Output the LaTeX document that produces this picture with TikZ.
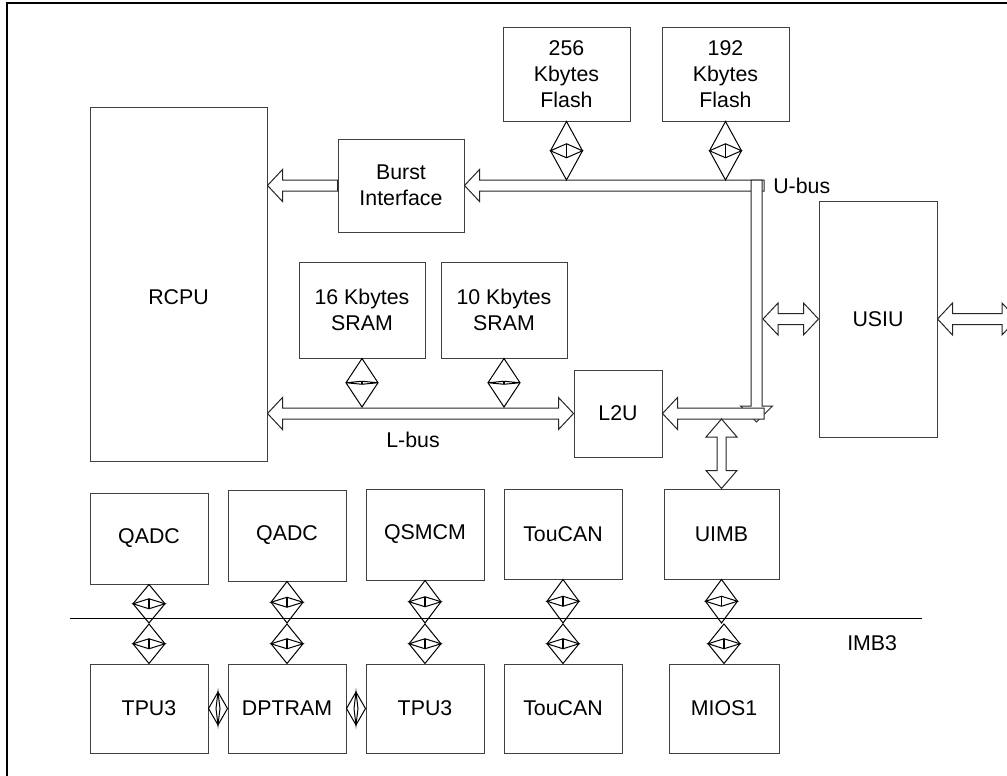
\documentclass[tikz,border=0pt]{standalone}
\usepackage{fontspec}
\setmainfont{Liberation Sans}
\usetikzlibrary{calc}
% vertical bidirectional diamond connector: #1 top, #2 bottom, #3 inner half height
\newcommand{\vbid}[3]{%
  \draw[conn] (#1) -- ($(#1)!0.5!(#2)+(16,0)$) -- (#2) -- ($(#1)!0.5!(#2)+(-16,0)$) -- cycle;
  \draw[conn] ($(#1)!0.5!(#2)+(-16,0)$) -- ($(#1)!0.5!(#2)+(0,-#3)$) -- ($(#1)!0.5!(#2)+(16,0)$) -- ($(#1)!0.5!(#2)+(0,#3)$) -- cycle;
  \draw[conn, line width=1.4pt] ($(#1)!0.5!(#2)+(0,-#3)$) -- ($(#1)!0.5!(#2)+(0,#3)$);
}
% horizontal bidirectional diamond connector: #1 left, #2 right
\newcommand{\hbid}[2]{%
  \draw[conn] (#1) -- ($(#1)!0.5!(#2)+(0,-16.5)$) -- (#2) -- ($(#1)!0.5!(#2)+(0,16.5)$) -- cycle;
  \draw[conn] ($(#1)!0.5!(#2)+(0,-16.5)$) -- ($(#1)!0.5!(#2)+(2,0)$) -- ($(#1)!0.5!(#2)+(0,16.5)$) -- ($(#1)!0.5!(#2)+(-2,0)$) -- cycle;
}
% hollow arrow pointing left: #1 tip, #2 tail end
\newcommand{\larrow}[2]{%
  \draw[barrow] (#1) -- ($(#1)+(15,-16)$) -- ($(#1)+(15,-5.5)$) -- ($(#2)+(0,-5.5)$) -- ($(#2)+(0,5.5)$) -- ($(#1)+(15,5.5)$) -- ($(#1)+(15,16)$) -- cycle;
}
% hollow arrow pointing down: #1 tail (top), #2 tip
\newcommand{\darrow}[2]{%
  \draw[barrow] ($(#1)+(-5.5,0)$) -- ($(#1)+(5.5,0)$) -- ($(#2)+(5.5,-16)$) -- ($(#2)+(16,-16)$) -- (#2) -- ($(#2)+(-16,-16)$) -- ($(#2)+(-5.5,-16)$) -- cycle;
}
% hollow double arrow horizontal: #1 left tip, #2 right tip
\newcommand{\hdarrow}[2]{%
  \draw[barrow] (#1) -- ($(#1)+(15,-16)$) -- ($(#1)+(15,-5.5)$) -- ($(#2)+(-15,-5.5)$) -- ($(#2)+(-15,-16)$) -- (#2) -- ($(#2)+(-15,16)$) -- ($(#2)+(-15,5.5)$) -- ($(#1)+(15,5.5)$) -- ($(#1)+(15,16)$) -- cycle;
}
% hollow double arrow vertical: #1 top tip, #2 bottom tip
\newcommand{\vdarrow}[2]{%
  \draw[barrow] (#1) -- ($(#1)+(15.5,18)$) -- ($(#1)+(4.5,18)$) -- ($(#2)+(4.5,-18)$) -- ($(#2)+(15.5,-18)$) -- (#2) -- ($(#2)+(-15.5,-18)$) -- ($(#2)+(-4.5,-18)$) -- ($(#1)+(-4.5,18)$) -- ($(#1)+(-15.5,18)$) -- cycle;
}
\begin{document}
\begin{tikzpicture}[x=0.75pt,y=-0.75pt,
  bx/.style 2 args={draw=black!75, line width=0.75pt, minimum width=#1*0.75pt, minimum height=#2*0.75pt, inner sep=0pt, align=center, font=\fontsize{16}{19.5}\selectfont},
  conn/.style={draw=black, line width=0.75pt, line join=miter},
  barrow/.style={draw=black!85, fill=white, line width=0.75pt},
  lbl/.style={font=\fontsize{16}{19.5}\selectfont, inner sep=0pt}]
\useasboundingbox (0,0) rectangle (1007,775);
\clip (0,0) rectangle (1007,775);
\draw[line width=1.5pt] (7,780) -- (7,3) -- (1010,3);

% boxes
\node[bx={177}{354}] (rcpu) at (178.5,284) {};
\node[lbl] (rcpulbl) at (178.5,297) {RCPU};
\node[bx={126}{93}] (burst) at (401,185.5) {Burst\\Interface};
\node[bx={127}{94}] (f256) at (566.5,74) {256\\Kbytes\\Flash};
\node[bx={127}{94}] (f192) at (725.5,74) {192\\Kbytes\\Flash};
\node[bx={126}{96}] (s16) at (362,310) {16 Kbytes\\SRAM};
\node[bx={126}{96}] (s10) at (504,310) {10 Kbytes\\SRAM};
\node[bx={88}{87}] (l2u) at (618,413.5) {L2U};
\node[bx={118}{236}] (usiu) at (878,319) {USIU};

\node[bx={118}{91}] (qadc1) at (149,538.5) {QADC};
\node[bx={118}{91}] (qadc2) at (287,535.5) {QADC};
\node[bx={118}{91}] (qsmcm) at (425,534.5) {QSMCM};
\node[bx={118}{90}] (toucan1) at (563,534) {TouCAN};
\node[bx={115}{90}] (uimb) at (721.5,534) {UIMB};
\node[bx={118}{89}] (tpu3a) at (149,708.5) {TPU3};
\node[bx={118}{89}] (dptram) at (287,708.5) {DPTRAM};
\node[bx={118}{89}] (tpu3b) at (425,708.5) {TPU3};
\node[bx={118}{89}] (toucan2) at (563,708.5) {TouCAN};
\node[bx={110}{89}] (mios1) at (724,708.5) {MIOS1};

% labels
\node[lbl, anchor=west] (ubuslbl) at (773,186) {U-bus};
\node[lbl] (lbuslbl) at (413,440) {L-bus};
\node[lbl, anchor=west] (imblbl) at (847,643) {IMB3};

% coordinates
\coordinate (ubtop) at (0,180);
\coordinate (lbtop) at (0,407);
\coordinate (imbu) at (0,623);
\coordinate (imbd) at (0,624);
\coordinate (imbL) at (70,618);
\coordinate (imbR) at (922,618);
\coordinate (brt) at (rcpu.east |- burst.west);
\coordinate (ubend) at (764,185.5);
\coordinate (uvt) at (756.5,180);
\coordinate (uvb) at (756.5,422);
\coordinate (l2ue) at (764,413.5);
\coordinate (uimbt) at (721.5,419);
\coordinate (lbl) at (rcpu.east |- l2u.west);
\coordinate (usl) at (763,319);
\coordinate (usr) at (1017,319);

% IMB3 bus
\draw[conn] (imbL) -- (imbR);

% block arrows
\larrow{brt}{burst.west}
\larrow{burst.east}{ubend}
\darrow{uvt}{uvb}
\larrow{l2u.east}{l2ue}
\vdarrow{uimbt}{uimb.north}
\hdarrow{lbl}{l2u.west}
\hdarrow{usl}{usiu.west}
\hdarrow{usiu.east}{usr}

% flash connectors
\coordinate (fa) at (f256.south |- ubtop);
\coordinate (fb) at (f192.south |- ubtop);
\vbid{f256.south}{fa}{7}
\vbid{f192.south}{fb}{7}
% sram connectors
\coordinate (sa) at (s16.south |- lbtop);
\coordinate (sb) at (s10.south |- lbtop);
\vbid{s16.south}{sa}{1.5}
\vbid{s10.south}{sb}{1.5}
% IMB upper connectors
\coordinate (u1) at (qadc1.south |- imbu);
\coordinate (u2) at (qadc2.south |- imbu);
\coordinate (u3) at (qsmcm.south |- imbu);
\coordinate (u4) at (toucan1.south |- imbu);
\coordinate (u5) at (uimb.south |- imbu);
\vbid{qadc1.south}{u1}{5}
\vbid{qadc2.south}{u2}{5}
\vbid{qsmcm.south}{u3}{5}
\vbid{toucan1.south}{u4}{5}
\vbid{uimb.south}{u5}{5}
% IMB lower connectors
\coordinate (l1) at (tpu3a.north |- imbd);
\coordinate (l2) at (dptram.north |- imbd);
\coordinate (l3) at (tpu3b.north |- imbd);
\coordinate (l4) at (toucan2.north |- imbd);
\coordinate (l5) at (mios1.north |- imbd);
\vbid{l1}{tpu3a.north}{5}
\vbid{l2}{dptram.north}{5}
\vbid{l3}{tpu3b.north}{5}
\vbid{l4}{toucan2.north}{5}
\vbid{l5}{mios1.north}{5}
% horizontal connectors
\hbid{tpu3a.east}{dptram.west}
\hbid{dptram.east}{tpu3b.west}
\end{tikzpicture}
\end{document}
